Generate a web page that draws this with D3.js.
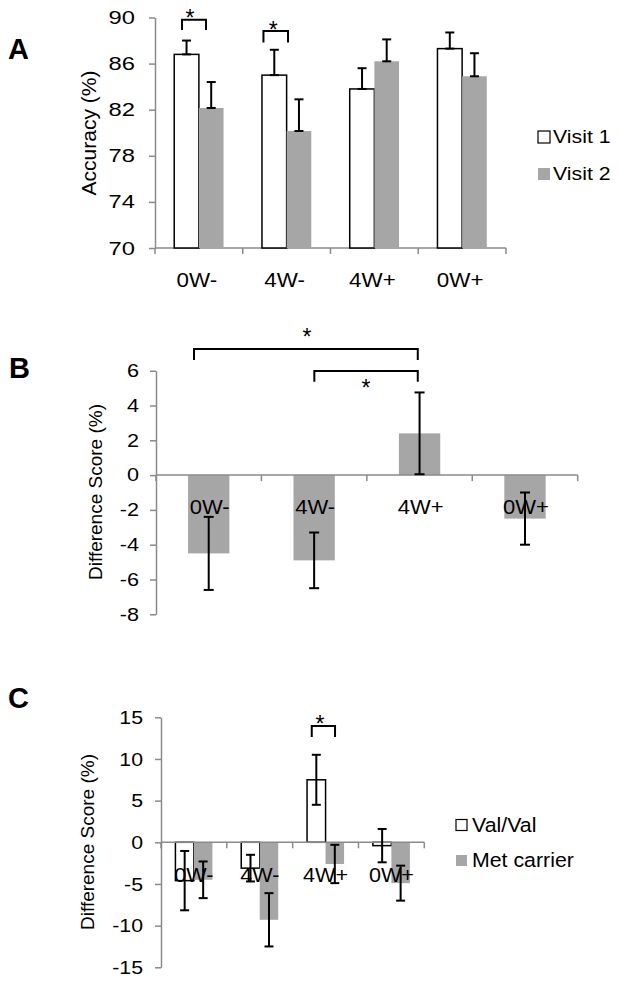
<!DOCTYPE html>
<html>
<head>
<meta charset="utf-8">
<script src="https://cdn.jsdelivr.net/npm/d3@7"></script>
<style>
  html, body { margin: 0; padding: 0; background: #fff; }
  svg { display: block; }
  text { font-family: "Liberation Sans", Arial, sans-serif; fill: #000; }
</style>
</head>
<body>
<svg id="chart" width="619" height="983"></svg>
<script>
// ---------------- DATA ----------------
const categories = ["0W-", "4W-", "4W+", "0W+"];

// Panel A: accuracy (%)
const visit1 = [86.8, 85.0, 83.8, 87.3];
const visit1Err = [1.2, 2.2, 1.8, 1.4];
const visit2 = [82.15, 80.15, 86.2, 84.9];
const visit2Err = [2.25, 2.75, 1.9, 2.0];
const ticksA = [70, 74, 78, 82, 86, 90];

// Panel B: difference score (%)
const diffScore = [-4.5, -4.9, 2.4, -2.5];
const diffErr = [2.1, 1.6, 2.35, 1.5];
const ticksB = [-8, -6, -4, -2, 0, 2, 4, 6];

// Panel C: difference score by genotype (%)
const valVal = [-4.6, -3.1, 7.5, -0.4];
const valValErr = [3.56, 1.6, 3.0, 2.0];
const metCarrier = [-4.5, -9.3, -2.6, -4.9];
const metCarrierErr = [2.2, 3.2, 2.3, 2.1];
const ticksC = [-15, -10, -5, 0, 5, 10, 15];

// ---------------- STYLE ----------------
const GRAY = "#a6a6a6";
const AXIS = "#8a8a8a";

const svg = d3.select("#chart");

// horizontally stretched text (the reference is slightly wide)
function htext(g, x, y, str, size, anchor, sx) {
  return g.append("text")
    .attr("transform", `translate(${x},${y}) scale(${sx},1)`)
    .attr("text-anchor", anchor || "start")
    .attr("font-size", size).text(str);
}

function drawYAxis(g, y, x0, ticks, fontSize, pad, sx) {
  const ax = d3.axisLeft(y).tickValues(ticks).tickSize(6).tickSizeOuter(0)
    .tickPadding(pad).tickFormat(d => String(d).replace("\u2212", "-"));
  const a = g.append("g").attr("transform", `translate(${x0},0)`).call(ax);
  a.select(".domain").attr("stroke", AXIS).attr("stroke-width", 1.5);
  a.selectAll(".tick line").attr("stroke", AXIS).attr("stroke-width", 1.5);
  a.selectAll(".tick text").attr("font-size", fontSize)
    .attr("font-family", '"Liberation Sans", Arial, sans-serif').attr("fill", "#000")
    .attr("x", -(6 + pad) / sx)
    .attr("transform", `scale(${sx},1)`);
}

function drawXAxis(g, x, y0) {
  const [r0, r1] = x.range();
  g.append("line").attr("x1", r0).attr("x2", r1).attr("y1", y0).attr("y2", y0)
    .attr("stroke", AXIS).attr("stroke-width", 1.5);
  const bounds = x.domain().map(d => x(d)).concat([r1]);
  g.selectAll(null).data(bounds).enter().append("line")
    .attr("x1", d => d).attr("x2", d => d).attr("y1", y0).attr("y2", y0 + 6)
    .attr("stroke", AXIS).attr("stroke-width", 1.5);
}

function errBar(g, cx, yTop, yBot, cap) {
  g.append("line").attr("x1", cx).attr("x2", cx).attr("y1", yTop).attr("y2", yBot)
    .attr("stroke", "#000").attr("stroke-width", 2);
  [yTop, yBot].forEach(yy => {
    g.append("line").attr("x1", cx - cap / 2).attr("x2", cx + cap / 2).attr("y1", yy).attr("y2", yy)
      .attr("stroke", "#000").attr("stroke-width", 2);
  });
}

function bracket(g, x0, x1, yTop, yBot) {
  g.append("path")
    .attr("d", `M${x0},${yBot}V${yTop}H${x1}V${yBot}`)
    .attr("fill", "none").attr("stroke", "#000").attr("stroke-width", 2);
}

function star(g, cx, cy) {
  g.append("text").attr("x", cx).attr("y", cy + 13).attr("text-anchor", "middle")
    .attr("font-size", 23).text("*");
}

function panelLetter(txt, x, y) {
  svg.append("text").attr("x", x).attr("y", y).attr("font-size", 29)
    .attr("font-family", '"Open Sans", "Liberation Sans", sans-serif')
    .attr("font-weight", "bold").text(txt);
}

function yTitle(txt, cx, cy, size) {
  svg.append("text").attr("transform", `translate(${cx},${cy}) rotate(-90)`)
    .attr("text-anchor", "middle").attr("dominant-baseline", "central")
    .attr("font-size", size).text(txt);
}

// ================= PANEL A =================
{
  const g = svg.append("g");
  const x = d3.scaleBand().domain(categories).range([155, 506]);
  const y = d3.scaleLinear().domain([70, 90]).range([248, 17.5]);
  const bw = x.bandwidth();
  const barW = bw * 0.281;
  const base = y(70);

  drawXAxis(g, x, base);

  const series = [
    { v: visit1, e: visit1Err, fill: "#fff", stroke: "#000", off: -barW },
    { v: visit2, e: visit2Err, fill: GRAY, stroke: "none", off: 0 }
  ];
  series.forEach(s => {
    g.selectAll(null).data(categories).enter().append("rect")
      .attr("x", (d) => x(d) + bw / 2 + s.off)
      .attr("y", (d, i) => y(s.v[i]))
      .attr("width", barW)
      .attr("height", (d, i) => base - y(s.v[i]))
      .attr("fill", s.fill).attr("stroke", s.stroke).attr("stroke-width", 1.5);
  });
  drawYAxis(g, y, 155, ticksA, 19, 14, 1.25);
  series.forEach(s => {
    categories.forEach((c, i) => {
      const cx = x(c) + bw / 2 + s.off + barW / 2;
      errBar(g, cx, y(s.v[i] + s.e[i]), y(s.v[i]), 9);
    });
  });

  categories.forEach(c => htext(g, x(c) + bw / 2 - 2, 287, c, 20, "middle", 1.12));

  const sigA = [
    { c: "0W-", f0: 0.308, f1: 0.581, top: 89.81, bot: 88.92, sf: 0.399, sv: 90.35 },
    { c: "4W-", f0: 0.236, f1: 0.516, top: 88.83, bot: 87.84, sf: 0.347, sv: 89.35 }
  ];
  sigA.forEach(s => {
    bracket(g, x(s.c) + s.f0 * bw, x(s.c) + s.f1 * bw, y(s.top), y(s.bot));
    star(g, x(s.c) + s.sf * bw, y(s.sv));
  });

  const leg = [{ t: "Visit 1", fill: "#fff", stroke: "#000", yb: 143 },
               { t: "Visit 2", fill: GRAY, stroke: "none", yb: 180 }];
  leg.forEach(l => {
    g.append("rect").attr("x", 538).attr("y", l.yb - 12).attr("width", 12).attr("height", 12)
      .attr("fill", l.fill).attr("stroke", l.stroke).attr("stroke-width", 1.2);
    htext(g, 553, l.yb, l.t, 19, "start", 1.12);
  });

  panelLetter("A", 8, 59);
  yTitle("Accuracy (%)", 88, 133, 21);
}

// ================= PANEL B =================
{
  const g = svg.append("g");
  const x = d3.scaleBand().domain(categories).range([156, 577.7]);
  const y = d3.scaleLinear().domain([-8, 6]).range([614.3, 370.7]);
  const bw = x.bandwidth();
  const barW = bw * 0.392;
  const zero = y(0);

  g.selectAll(null).data(categories).enter().append("rect")
    .attr("x", d => x(d) + bw / 2 - barW / 2)
    .attr("y", (d, i) => Math.min(y(diffScore[i]), zero))
    .attr("width", barW)
    .attr("height", (d, i) => Math.abs(y(diffScore[i]) - zero))
    .attr("fill", GRAY);

  drawXAxis(g, x, zero);
  drawYAxis(g, y, 156, ticksB, 18, 11, 1.2);

  categories.forEach(c => htext(g, x(c) + bw / 2 + 1, 514, c, 20, "middle", 1.1));

  categories.forEach((c, i) => {
    const cx = x(c) + bw / 2;
    errBar(g, cx, y(diffScore[i] + diffErr[i]), y(diffScore[i] - diffErr[i]), 10);
  });

  const sigB = [
    { c0: "0W-", f0: 0.3605, c1: "4W+", f1: 0.483, top: 7.24, bot: 6.61, sc: "4W-", sf: 0.433, sv: 8.24 },
    { c0: "4W-", f0: 0.502, c1: "4W+", f1: 0.483, top: 5.98, bot: 5.36, sc: "4W-", sf: 0.992, sv: 5.29 }
  ];
  sigB.forEach(s => {
    bracket(g, x(s.c0) + s.f0 * bw, x(s.c1) + s.f1 * bw, y(s.top), y(s.bot));
    star(g, x(s.sc) + s.sf * bw, y(s.sv));
  });

  panelLetter("B", 9, 378);
  yTitle("Difference Score (%)", 95, 492, 19);
}

// ================= PANEL C =================
{
  const g = svg.append("g");
  const x = d3.scaleBand().domain(categories).range([161, 424.3]);
  const y = d3.scaleLinear().domain([-15, 15]).range([967.3, 717.3]);
  const bw = x.bandwidth();
  const barW = bw * 0.281;
  const zero = y(0);

  const series = [
    { v: valVal, e: valValErr, fill: "#fff", stroke: "#000", off: -barW },
    { v: metCarrier, e: metCarrierErr, fill: GRAY, stroke: "none", off: 0 }
  ];
  series.forEach(s => {
    g.selectAll(null).data(categories).enter().append("rect")
      .attr("x", d => x(d) + bw / 2 + s.off)
      .attr("y", (d, i) => Math.min(y(s.v[i]), zero))
      .attr("width", barW)
      .attr("height", (d, i) => Math.abs(y(s.v[i]) - zero))
      .attr("fill", s.fill).attr("stroke", s.stroke).attr("stroke-width", 1.5);
  });

  drawXAxis(g, x, zero);
  drawYAxis(g, y, 161, ticksC, 19, 12, 1.12);

  categories.forEach(c => htext(g, x(c) + bw / 2, 881.5, c, 20, "middle", 1.08));

  series.forEach(s => {
    categories.forEach((c, i) => {
      const cx = x(c) + bw / 2 + s.off + barW / 2;
      errBar(g, cx, y(s.v[i] + s.e[i]), y(s.v[i] - s.e[i]), 9);
    });
  });

  const sigC = [{ c: "4W+", f0: 0.29, f1: 0.644, top: 13.96, bot: 12.64, sf: 0.416, sv: 14.77 }];
  sigC.forEach(s => {
    bracket(g, x(s.c) + s.f0 * bw, x(s.c) + s.f1 * bw, y(s.top), y(s.bot));
    star(g, x(s.c) + s.sf * bw, y(s.sv));
  });

  const leg = [{ t: "Val/Val", fill: "#fff", stroke: "#000", yb: 831.5 },
               { t: "Met carrier", fill: GRAY, stroke: "none", yb: 867 }];
  leg.forEach(l => {
    g.append("rect").attr("x", 456).attr("y", l.yb - 12).attr("width", 11).attr("height", 11)
      .attr("fill", l.fill).attr("stroke", l.stroke).attr("stroke-width", 1.2);
    htext(g, 472, l.yb, l.t, 20.5, "start", 1.04);
  });

  panelLetter("C", 8, 708);
  yTitle("Difference Score (%)", 87, 842, 19);
}
</script>
</body>
</html>
